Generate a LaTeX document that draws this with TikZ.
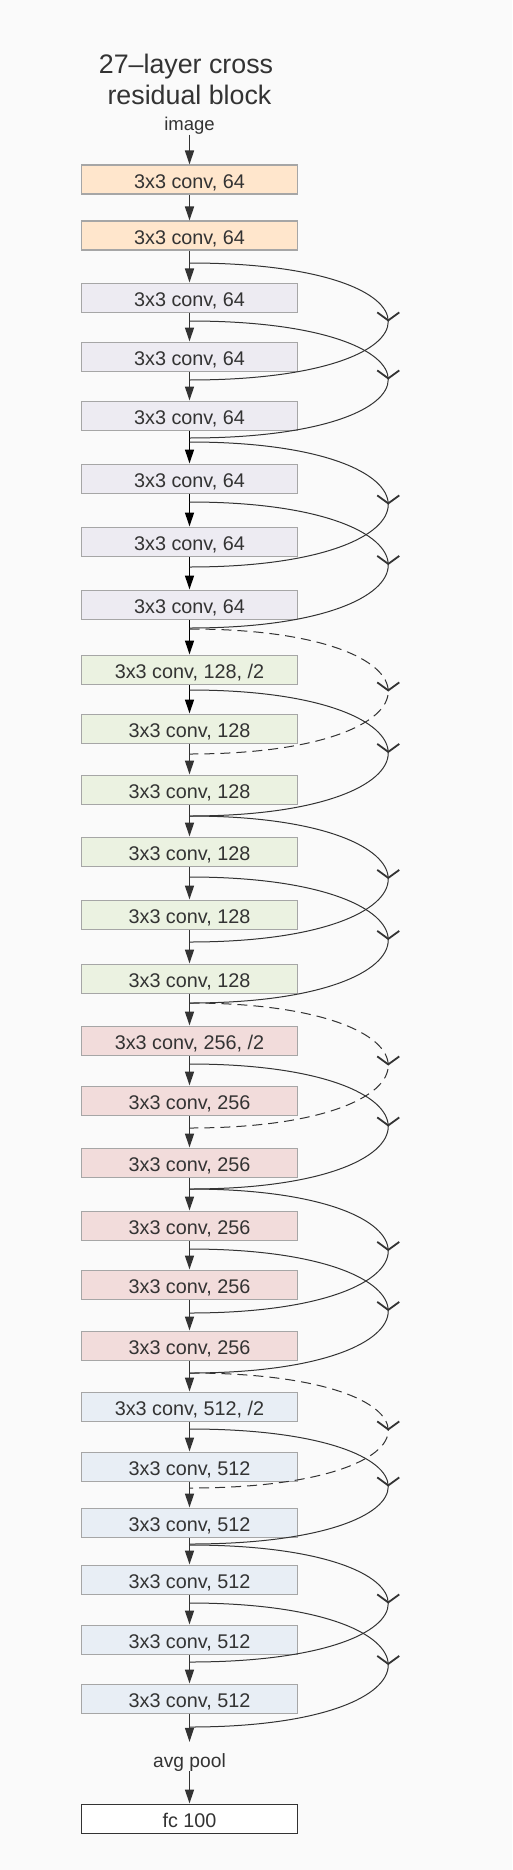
\documentclass[tikz,border=0pt]{standalone}
\usepackage{fontspec}
\setmainfont{Liberation Sans}
\usetikzlibrary{arrows.meta,decorations.markings}
\definecolor{bg}{HTML}{FAFAFA}
\definecolor{textc}{HTML}{333333}
\definecolor{linec}{HTML}{333333}
\definecolor{boxborder}{HTML}{A6A6A6}
\definecolor{cA}{HTML}{FFE6CC}
\definecolor{cB}{HTML}{EDEBF2}
\definecolor{cC}{HTML}{EBF2E1}
\definecolor{cD}{HTML}{F2DCDB}
\definecolor{cE}{HTML}{E8EEF5}
\begin{document}
\begin{tikzpicture}[x=1pt,y=-1pt,
  layer/.style={draw=boxborder, line width=1.3pt, minimum width=216pt, minimum height=29pt,
    inner sep=0pt, text height=18.6pt, text depth=0pt, anchor=north,
    font=\fontsize{19.8}{22}\selectfont, text=textc},
  lbl/.style={inner sep=0pt, text=textc, font=\fontsize{18.5}{20}\selectfont},
  varrow/.style={draw=linec, line width=1.3pt, -{Triangle[length=14pt,width=9pt]}},
  skip/.style={draw=linec, line width=1pt, postaction={decorate},
    decoration={markings, mark=at position 0.5 with {\arrow[line width=1.8pt]{Straight Barb[length=8pt,width=22pt]}}}},
  dsk/.style={dash pattern=on 10pt off 6pt},
  sld/.style={solid}
]
\useasboundingbox (0,0) rectangle (512,1870);
\fill[bg] (0,0) rectangle (512,1870);

\node[anchor=base, text=textc, font=\fontsize{26.8}{30}\selectfont] (t1) at (186,74) {27–layer cross};
\node[anchor=base, text=textc, font=\fontsize{26.8}{30}\selectfont] (t2) at (189.5,105) {residual block};
\node[lbl, anchor=base] (img) at (189.5,130.5) {image};

\node[layer, fill=cA] (b1) at (189.5,164.5) {3x3 conv, 64};
\node[layer, fill=cA] (b2) at (189.5,220.5) {3x3 conv, 64};
\node[layer, fill=cB] (b3) at (189.5,282.5) {3x3 conv, 64};
\node[layer, fill=cB] (b4) at (189.5,341.5) {3x3 conv, 64};
\node[layer, fill=cB] (b5) at (189.5,400.5) {3x3 conv, 64};
\node[layer, fill=cB] (b6) at (189.5,463.5) {3x3 conv, 64};
\node[layer, fill=cB] (b7) at (189.5,526.5) {3x3 conv, 64};
\node[layer, fill=cB] (b8) at (189.5,589.5) {3x3 conv, 64};
\node[layer, fill=cC] (b9) at (189.5,654.5) {3x3 conv, 128, /2};
\node[layer, fill=cC] (b10) at (189.5,713.5) {3x3 conv, 128};
\node[layer, fill=cC] (b11) at (189.5,774.5) {3x3 conv, 128};
\node[layer, fill=cC] (b12) at (189.5,836.5) {3x3 conv, 128};
\node[layer, fill=cC] (b13) at (189.5,899.5) {3x3 conv, 128};
\node[layer, fill=cC] (b14) at (189.5,963.5) {3x3 conv, 128};
\node[layer, fill=cD] (b15) at (189.5,1025.5) {3x3 conv, 256, /2};
\node[layer, fill=cD] (b16) at (189.5,1085.5) {3x3 conv, 256};
\node[layer, fill=cD] (b17) at (189.5,1147.5) {3x3 conv, 256};
\node[layer, fill=cD] (b18) at (189.5,1210.5) {3x3 conv, 256};
\node[layer, fill=cD] (b19) at (189.5,1269.5) {3x3 conv, 256};
\node[layer, fill=cD] (b20) at (189.5,1330.5) {3x3 conv, 256};
\node[layer, fill=cE] (b21) at (189.5,1391.5) {3x3 conv, 512, /2};
\node[layer, fill=cE] (b22) at (189.5,1451.5) {3x3 conv, 512};
\node[layer, fill=cE] (b23) at (189.5,1507.5) {3x3 conv, 512};
\node[layer, fill=cE] (b24) at (189.5,1564.5) {3x3 conv, 512};
\node[layer, fill=cE] (b25) at (189.5,1624.5) {3x3 conv, 512};
\node[layer, fill=cE] (b26) at (189.5,1683.5) {3x3 conv, 512};

\node[lbl, anchor=base, font=\fontsize{19.2}{21}\selectfont] (avg) at (189.5,1767) {avg pool};
\node[layer, fill=white, draw=textc] (fc) at (189.5,1803.5) {fc 100};

% main vertical arrows
\draw[varrow] (img.south) -- (b1.north);
\foreach \i in {1,...,25}{
  \pgfmathtruncatemacro\j{\i+1}
  \ifnum\i>4 \ifnum\i<10
    \draw[varrow, draw=black] (b\i.south) -- (b\j.north);
  \else
    \draw[varrow] (b\i.south) -- (b\j.north);
  \fi\else
    \draw[varrow] (b\i.south) -- (b\j.north);
  \fi
}
\draw[varrow] (b26.south) -- ([yshift=11pt]avg.north);
\draw[varrow] (avg.south) -- (fc.north);

% skip connections
\foreach \n/\a/\b/\st in {1/263/380/sld, 2/321/438/sld, 3/442/567/sld, 4/502/628/sld,
    5/629/754/dsk, 6/690/816/sld, 7/816/942/sld, 8/877/1003/sld,
    9/1003/1128/dsk, 10/1064/1189/sld, 11/1189/1313/sld, 12/1249/1373/sld,
    13/1373/1488/dsk, 14/1429/1544/sld, 15/1545/1662/sld, 16/1603/1727/sld}{
  \coordinate (s\n) at (189.5,\a);
  \coordinate (e\n) at (189.5,\b);
  \draw[skip,\st] (s\n) .. controls ([xshift=265pt]s\n) and ([xshift=265pt]e\n) .. (e\n);
}
\end{tikzpicture}
\end{document}
